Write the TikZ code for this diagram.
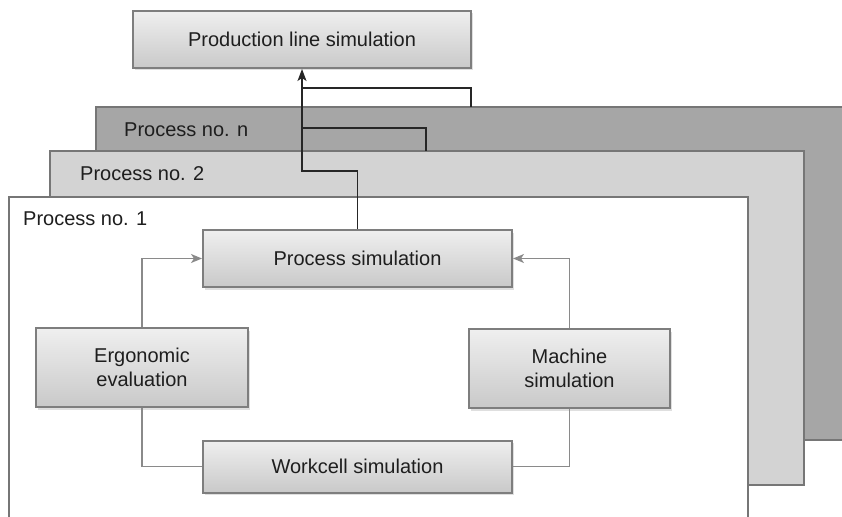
\documentclass[tikz,border=0pt]{standalone}
\usepackage{fontspec}
\setmainfont{Liberation Sans}
\usetikzlibrary{arrows.meta,shadows}

\definecolor{layerN}{HTML}{A6A6A6}
\definecolor{layerTwo}{HTML}{D3D3D3}
\definecolor{layerEdge}{HTML}{767676}
\definecolor{boxEdge}{HTML}{7E7E7E}
\definecolor{boxTop}{HTML}{EFEFEF}
\definecolor{boxBottom}{HTML}{C9C9C9}
\definecolor{txt}{HTML}{1E1E1E}
\definecolor{linkGray}{HTML}{8A8A8A}

\tikzset{
  layer/.style={draw=layerEdge, line width=1.8pt},
  layerlabel/.style={anchor=west, inner sep=0pt, text=txt, font=\fontsize{20}{24}\selectfont},
  simbox/.style={draw=boxEdge, line width=2pt, top color=boxTop, bottom color=boxBottom,
    text=txt, align=center, font=\fontsize{20}{24}\selectfont, inner sep=0pt,
    drop shadow={opacity=0.25, shadow xshift=1.5pt, shadow yshift=-2.5pt}},
  sublink/.style={draw=linkGray, line width=1.3pt},
  sublinkarrow/.style={sublink, -{Stealth[length=11pt,width=9pt,inset=3pt]}},
  mainlink/.style={draw=black!85, line width=1.4pt},
  mainlinkarrow/.style={mainlink, -{Stealth[length=12pt,width=9pt,inset=3pt]}},
}

\begin{document}
\begin{tikzpicture}[x=1pt,y=-1pt]
  \useasboundingbox (0,0) rectangle (842,516);
  \clip (0,0) rectangle (842,516);
  \fill[white] (0,0) rectangle (842,516);

  % stacked process layers
  \filldraw[layer, fill=layerN] (96,107) rectangle (870,440);
  \node[layerlabel] (labN) at (124,130) {Process no. n};
  \filldraw[layer, fill=layerTwo] (50,151) rectangle (804,485);
  \node[layerlabel] (lab2) at (80,174) {Process no. 2};
  \filldraw[layer, fill=white] (9,197) rectangle (748,540);
  \node[layerlabel] (lab1) at (23,219) {Process no. 1};

  % simulation blocks
  \node[simbox, minimum width=338pt, minimum height=57pt] (pl) at (302,39.5) {Production line simulation};
  \node[simbox, minimum width=309pt, minimum height=57pt] (ps) at (357.5,258.5) {Process simulation};
  \node[simbox, minimum width=212pt, minimum height=79pt] (ergo) at (142,367.5) {Ergonomic\\evaluation};
  \node[simbox, minimum width=201pt, minimum height=79pt] (mach) at (569.5,368.5) {Machine\\simulation};
  \node[simbox, minimum width=309pt, minimum height=52pt] (wc) at (357.5,466.5) {Workcell simulation};

  % links inside process no. 1
  \draw[sublinkarrow] (ergo.north) |- (ps.west);
  \draw[sublinkarrow] (mach.north) |- (ps.east);
  \draw[sublink] (ergo.south) |- (wc.west);
  \draw[sublink] (mach.south) |- (wc.east);

  % links from each process up to the production line
  \coordinate (j1) at (302,171);
  \coordinate (j2) at (302,128);
  \coordinate (j3) at (302,88);
  \coordinate (t2) at (426,151);
  \coordinate (tn) at (471,107);
  \draw[mainlinkarrow] (ps.north) |- (j1) -- (pl.south);
  \draw[mainlink] (j2) -| (t2);
  \draw[mainlink] (j3) -| (tn);
\end{tikzpicture}
\end{document}
